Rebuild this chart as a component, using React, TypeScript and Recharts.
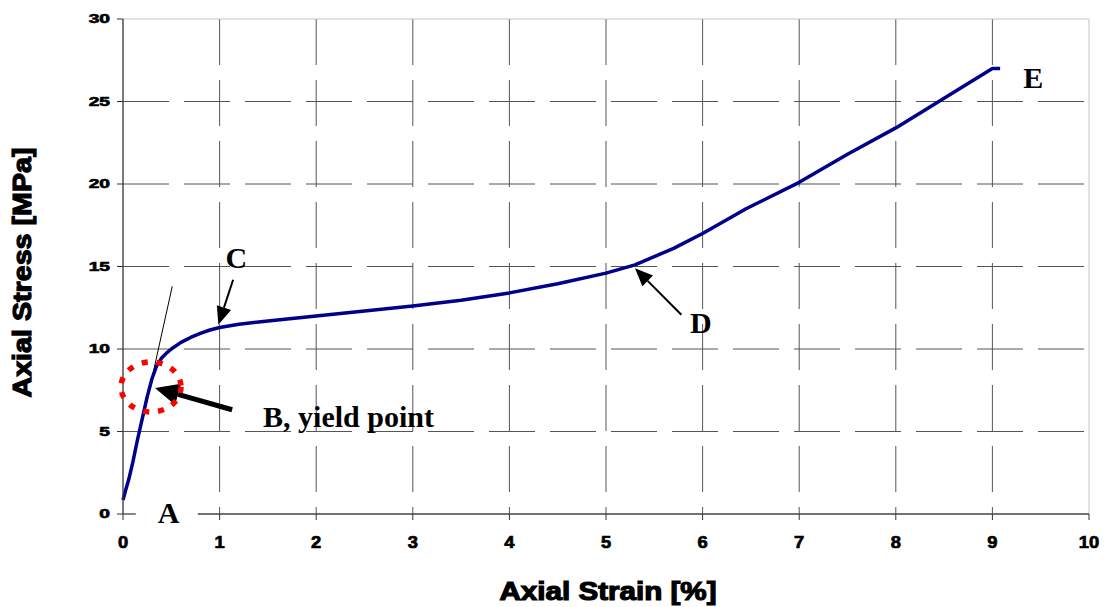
import { LineChart, Line, XAxis, YAxis, CartesianGrid, ReferenceLine, ReferenceDot } from 'recharts';

// stress-strain curve
const strain = [0, 0.03, 0.06, 0.1, 0.15, 0.2, 0.25, 0.3, 0.35, 0.4, 0.45, 0.5, 0.6, 0.7, 0.8, 0.9, 1.0, 1.2, 1.5, 2.0, 2.5, 3.0, 3.5, 4.0, 4.5, 5.0, 5.3, 5.7, 6.0, 6.45, 7.0, 7.5, 8.0, 8.5, 9.0, 9.08];
const stress = [0.85, 1.5, 2.1, 3.1, 4.5, 5.8, 7.1, 8.2, 9.0, 9.45, 9.75, 10.0, 10.4, 10.7, 10.95, 11.15, 11.3, 11.5, 11.7, 12.0, 12.3, 12.6, 12.95, 13.4, 13.95, 14.6, 15.1, 16.1, 17.0, 18.5, 20.1, 21.8, 23.4, 25.2, 27.0, 27.0];

// thin tangent line near the yield point
const tangentStrain = [0.2, 0.51];
const tangentStress = [5.6, 13.8];

const xTicks = [0, 1, 2, 3, 4, 5, 6, 7, 8, 9, 10];
const yTicks = [0, 5, 10, 15, 20, 25, 30];

// point letters (start of text, baseline)
const labelText = ['A', 'B, yield point', 'C', 'D', 'E'];
const labelX = [0.36, 1.45, 1.06, 5.87, 9.32];
const labelY = [-0.53, 5.29, 14.93, 10.99, 25.84];

// arrows: tail -> tip
const arrowTailX = [1.13, 1.14, 5.78];
const arrowTailY = [6.32, 14.2, 12.08];
const arrowTipX = [0.331, 0.987, 5.3];
const arrowTipY = [7.64, 11.47, 14.9];
const arrowWeight = [5, 2, 2];

// dotted circle around B
const yieldX = 0.29;
const yieldY = 7.7;

const curveData = strain.map((x, i) => ({ x, stress: stress[i] }));
const tangentData = tangentStrain.map((x, i) => ({ x, stress: tangentStress[i] }));

const SANS = '"Liberation Sans", Arial, sans-serif';
const SERIF = '"Liberation Serif", "Times New Roman", serif';

const YTick = ({ x, y, payload }: any) => (
  <text
    transform={`translate(${x - 5},${y + 4.3}) scale(1.6,1)`}
    textAnchor="end"
    fontFamily={SANS}
    fontWeight="bold"
    fontSize={12}
    fill="#000"
    stroke="#000"
    strokeWidth={0.6}
  >
    {payload.value}
  </text>
);

const XTick = ({ x, y, payload }: any) => (
  <text
    transform={`translate(${x},${y + 26}) scale(1.08,1)`}
    textAnchor="middle"
    fontFamily={SANS}
    fontWeight="bold"
    fontSize={17}
    fill="#000"
    stroke="#000"
    strokeWidth={0.7}
  >
    {payload.value}
  </text>
);

const Arrow = (w: number) => (p: any) => {
  const { x1, y1, x2, y2 } = p;
  const ang = Math.atan2(y2 - y1, x2 - x1);
  const len = w > 3 ? 24 : 18;
  const half = w > 3 ? 11 : 7.5;
  const bx = x2 - len * Math.cos(ang);
  const by = y2 - len * Math.sin(ang);
  const nx = -Math.sin(ang) * half;
  const ny = Math.cos(ang) * half;
  return (
    <g>
      <line x1={x1} y1={y1} x2={bx} y2={by} stroke="#000" strokeWidth={w} />
      <polygon points={`${x2},${y2} ${bx + nx},${by + ny} ${bx - nx},${by - ny}`} fill="#000" />
    </g>
  );
};

const PointLabel = (text: string) => (p: any) => {
  const { cx, cy } = p;
  const boxed = text === 'A' || text === 'E';
  return (
    <g>
      {boxed && <rect x={cx - 22} y={cy - 25} width={62} height={30} fill="#fff" />}
      <text x={cx} y={cy} fontFamily={SERIF} fontWeight="bold" fontSize={30} fill="#000">
        {text}
      </text>
    </g>
  );
};

const YieldCircle = (p: any) => (
  <ellipse
    cx={p.cx}
    cy={p.cy}
    rx={30}
    ry={25}
    fill="none"
    stroke="#ff0000"
    strokeWidth={5.5}
    strokeDasharray="6 9"
  />
);

export default function App() {
  return (
    <div style={{ position: 'absolute', left: 0, top: 0, background: '#fff' }}>
      <LineChart width={1105} height={607} margin={{ top: 19, right: 16, bottom: 53, left: 63 }}>
        <CartesianGrid
          stroke="#555"
          strokeDasharray="46 15"
          horizontalValues={[5, 10, 15, 20, 25]}
          verticalValues={[1, 2, 3, 4, 5, 6, 7, 8, 9]}
        />
        <XAxis
          dataKey="x"
          type="number"
          domain={[0, 10]}
          ticks={xTicks}
          interval={0}
          axisLine={false}
          tickLine={{ stroke: '#333' }}
          tickSize={6}
          tick={<XTick />}
          height={40}
          label={{
            content: (p: any) => {
              const vb = p.viewBox;
              return (
                <text
                  x={vb.x + vb.width / 2 + 2}
                  y={vb.y + 86}
                  textAnchor="middle"
                  fontFamily={SANS}
                  fontWeight="bold"
                  fontSize={26}
                  fill="#000"
                  stroke="#000"
                  strokeWidth={1.2}
                  textLength={217}
                  lengthAdjust="spacingAndGlyphs"
                >
                  Axial Strain [%]
                </text>
              );
            },
          }}
        />
        <YAxis
          type="number"
          domain={[0, 30]}
          ticks={yTicks}
          interval={0}
          axisLine={{ stroke: '#333', strokeWidth: 1.3 }}
          tickLine={{ stroke: '#333' }}
          tickSize={6}
          tick={<YTick />}
          width={60}
          label={{
            content: (p: any) => {
              const vb = p.viewBox;
              const cx = vb.x - 41;
              const cy = vb.y + vb.height / 2 + 6;
              return (
                <text
                  x={cx}
                  y={cy}
                  transform={`rotate(-90,${cx},${cy})`}
                  textAnchor="middle"
                  dominantBaseline="central"
                  fontFamily={SANS}
                  fontWeight="bold"
                  fontSize={26}
                  fill="#000"
                  stroke="#000"
                  strokeWidth={1.2}
                  textLength={250}
                  lengthAdjust="spacingAndGlyphs"
                >
                  Axial Stress [MPa]
                </text>
              );
            },
          }}
        />
        <ReferenceLine y={30} stroke="#c4c4c4" />
        <ReferenceLine x={10} stroke="#c4c4c4" />
        <ReferenceLine segment={[{ x: 0, y: 0 }, { x: 0.145, y: 0 }]} stroke="#444" strokeWidth={1.3} />
        <ReferenceLine segment={[{ x: 0.766, y: 0 }, { x: 10, y: 0 }]} stroke="#444" strokeWidth={1.3} />
        <Line
          data={tangentData}
          dataKey="stress"
          type="linear"
          stroke="#000"
          strokeWidth={1}
          dot={false}
          isAnimationActive={false}
        />
        <Line
          data={curveData}
          dataKey="stress"
          type="linear"
          stroke="#00008b"
          strokeWidth={3.5}
          strokeLinejoin="round"
          dot={false}
          isAnimationActive={false}
        />
        <ReferenceDot x={yieldX} y={yieldY} r={1} shape={YieldCircle} ifOverflow="visible" />
        {arrowTipX.map((tx, i) => (
          <ReferenceLine
            key={'arr' + i}
            segment={[
              { x: arrowTailX[i], y: arrowTailY[i] },
              { x: tx, y: arrowTipY[i] },
            ]}
            shape={Arrow(arrowWeight[i])}
            ifOverflow="visible"
          />
        ))}
        {labelText.map((t, i) => (
          <ReferenceDot key={'lbl' + i} x={labelX[i]} y={labelY[i]} r={1} shape={PointLabel(t)} ifOverflow="visible" />
        ))}
      </LineChart>
    </div>
  );
}
